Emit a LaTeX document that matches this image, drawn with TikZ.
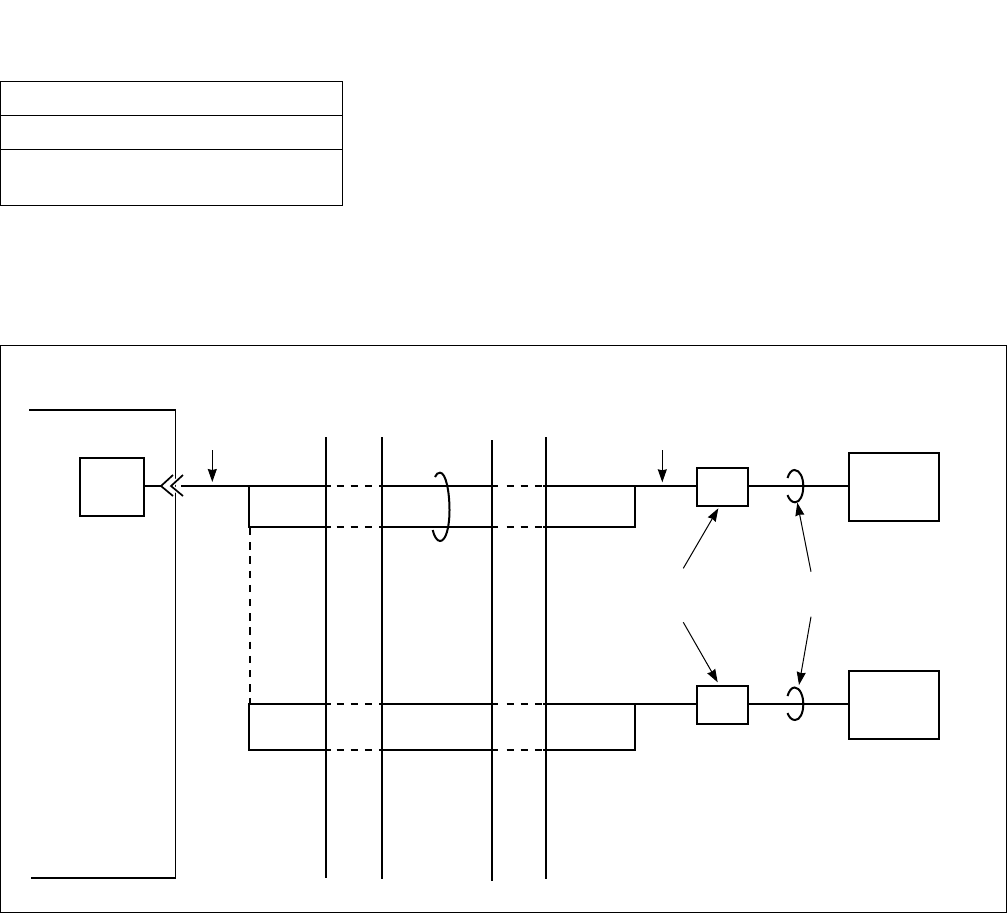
\documentclass[tikz,border=0pt]{standalone}
\usetikzlibrary{arrows.meta}
\tikzset{
  ln/.style={line width=2pt,black},
  thinbox/.style={line width=1pt,black},
  dsh/.style={ln,dash pattern=on 7.3pt off 6.9pt},
  arr/.style={line width=1pt,-{Stealth[length=13pt,width=9pt,inset=1pt]}},
  blank/.style={draw,line width=2pt,inner sep=0pt,outer sep=0pt,anchor=north west},
  pane/.style={draw,thinbox,inner sep=0pt,outer sep=0pt,anchor=north west},
}
\begin{document}
\begin{tikzpicture}[x=1pt,y=-1pt]
\useasboundingbox (0,0) rectangle (1008,914);
% header table
\node[pane,minimum width=342pt,minimum height=124pt] (tbl) at (0.5,81.5) {};
\coordinate (t1) at (0,115); \coordinate (t2) at (0,149);
\draw[thinbox] (tbl.west |- t1) -- (tbl.east |- t1);
\draw[thinbox] (tbl.west |- t2) -- (tbl.east |- t2);
% frame
\node[pane,minimum width=1006pt,minimum height=567.5pt] (frame) at (0.5,345) {};
% cabinet
\coordinate (ca) at (29,410); \coordinate (cb) at (175.5,410);
\coordinate (cc) at (175.5,878); \coordinate (cd) at (31,878);
\draw[thinbox] (cb) -- (cc);
\draw[ln] (ca) -- (cb);
\draw[ln] (cc) -- (cd);
% boxes
\node[blank,minimum width=64pt,minimum height=58pt] (cpu) at (80,458) {};
\node[blank,minimum width=51pt,minimum height=38pt] (f1) at (697,468) {};
\node[blank,minimum width=51pt,minimum height=38pt] (f2) at (697,686) {};
\node[blank,minimum width=90pt,minimum height=68pt] (d1) at (849,453) {};
\node[blank,minimum width=90pt,minimum height=68pt] (d2) at (849,671) {};
% levels
\coordinate (y1) at (0,486); \coordinate (y2) at (0,527);
\coordinate (y3) at (0,704); \coordinate (y4) at (0,750);
% connector chevrons
\coordinate (chevtip) at (161,486);
\coordinate (chevtip2) at (171,486);
\coordinate (busstart) at (181,486);
\draw[white,line width=4.5pt] (173,475) -- (chevtip) -- (173,496);
\draw[white,line width=4.5pt] (183,475) -- (chevtip2) -- (183,496);
\draw[line width=1.7pt] (173,475) -- (chevtip) -- (173,496);
\draw[line width=1.7pt] (183,475) -- (chevtip2) -- (183,496);
\draw[ln] (cpu.east |- chevtip) -- (chevtip);
% vertical bars
\draw[ln] (326,437) -- (326,878);
\draw[ln] (382,437) -- (382,879);
\draw[ln] (492,440) -- (492,881);
\draw[ln] (546,437) -- (546,879);
% top pair
\draw[ln] (busstart) -- (331,486);
\draw[dsh] (336.5,486) -- (379,486);
\draw[ln] (379,486) -- (498,486);
\draw[dsh] (506.5,486) -- (543,486);
\draw[ln] (543,486) -- (635,486);
\draw[ln] (635,485) -- (635,528);
\draw[ln] (635,486) -- (f1.west |- y1);
\draw[ln] (249,486) -- (249,527);
\draw[ln] (248,527) -- (331,527);
\draw[dsh] (336.5,527) -- (379,527);
\draw[ln] (379,527) -- (498,527);
\draw[dsh] (506.5,527) -- (543,527);
\draw[ln] (543,527) -- (636,527);
% dashed riser
\draw[dsh] (250,528) -- (250,703);
% bottom pair
\draw[ln] (249,703) -- (249,751);
\draw[ln] (248,704) -- (331,704);
\draw[dsh] (336.5,704) -- (379,704);
\draw[ln] (379,704) -- (498,704);
\draw[dsh] (506.5,704) -- (543,704);
\draw[ln] (543,704) -- (f2.west |- y3);
\draw[ln] (635,703) -- (635,751);
\draw[ln] (248,750) -- (331,750);
\draw[dsh] (336.5,750) -- (379,750);
\draw[ln] (379,750) -- (498,750);
\draw[dsh] (506.5,750) -- (543,750);
\draw[ln] (543,750) -- (636,750);
% device links
\draw[ln] (f1.east |- y1) -- (d1.west |- y1);
\draw[ln] (f2.east |- y3) -- (d2.west |- y3);
% cable loops
\draw[ln] (787.5,478) .. controls (789,473) and (791.5,470) .. (794.5,470) .. controls (800,470) and (803.3,478) .. (803.3,486) .. controls (803.3,495) and (800,502.3) .. (795,502.3) .. controls (791.5,502.3) and (789,499) .. (787.5,495);
\draw[ln] (787.5,696) .. controls (789,691) and (791.5,687.5) .. (794.5,687.5) .. controls (800,687.5) and (803.3,696) .. (803.3,704) .. controls (803.3,713) and (800,720) .. (795,720) .. controls (791.5,720) and (789,717) .. (787.5,713);
\draw[ln] (435,477) .. controls (436,474) and (438,472.7) .. (440,472.7) .. controls (446,472.7) and (449.5,492) .. (449.5,510) .. controls (449.5,527) and (446,541) .. (440,541) .. controls (437,541) and (434,536) .. (432.7,530);
% arrows
\coordinate (a1s) at (212.3,450); \coordinate (a1e) at (212.3,482);
\coordinate (a2s) at (662.3,450); \coordinate (a2e) at (662.3,482.3);
\coordinate (a3s) at (683.3,568.3); \coordinate (a3e) at (718.3,508.3);
\coordinate (a4s) at (811,571.7); \coordinate (a4e) at (797.3,502.7);
\coordinate (a5s) at (683.3,622.3); \coordinate (a5e) at (717.7,682.3);
\coordinate (a6s) at (811,616.7); \coordinate (a6e) at (799,685);
\foreach \i in {1,...,6} \draw[arr] (a\i s) -- (a\i e);
\end{tikzpicture}
\end{document}
